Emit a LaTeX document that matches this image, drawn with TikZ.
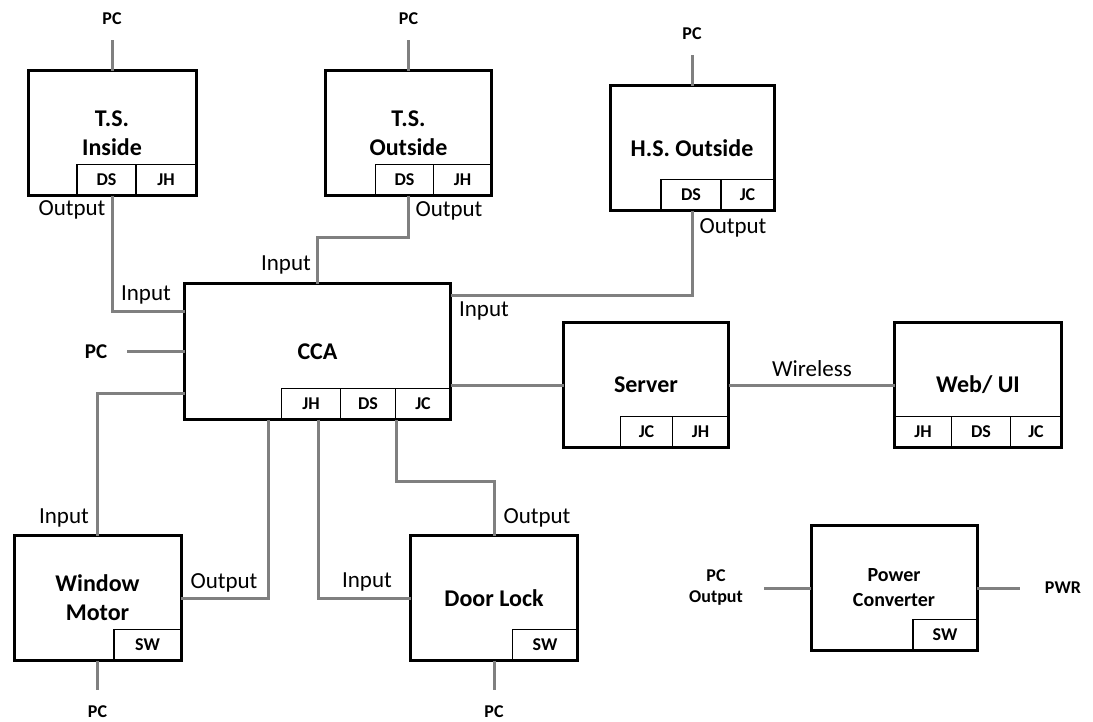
\documentclass[tikz,border=0pt]{standalone}
\usepackage{fontspec}
\setmainfont{Carlito}
\usetikzlibrary{positioning}

\tikzset{
	bloque/.style={draw, line width=3pt, outer sep=0pt, minimum width=167pt, minimum height=125pt,
		align=center, font=\fontsize{24}{29}\selectfont\bfseries},
	celda/.style={draw, line width=1.5pt, outer sep=0pt, inner sep=0pt, minimum height=31pt,
		font=\fontsize{18}{20}\selectfont\bfseries},
	cable/.style={draw=gray, line width=3pt},
	etiq/.style={inner sep=0pt, font=\fontsize{23}{26}\selectfont},
	pin/.style={inner sep=0pt, align=center, font=\fontsize{18}{21}\selectfont\bfseries}
}

\begin{document}
\begin{tikzpicture}[x=1pt, y=-1pt]
	\useasboundingbox (0,0) rectangle (1093,721);
	
	% bloques principales
	\node[bloque, minimum width=168pt] (tsi) at (112,133) {T.S.\\Inside};
	\node[bloque, minimum width=166pt] (tso) at (408.5,133) {T.S.\\Outside};
	\node[bloque, minimum width=164pt] (hso) at (692,148) {H.S. Outside};
	\node[bloque, minimum width=266pt, minimum height=136pt] (cca) at (317.5,351.5) {CCA};
	\node[bloque, minimum width=165pt] (srv) at (646,385) {Server};
	\node[bloque] (web) at (978,385) {Web/ UI};
	\node[bloque] (win) at (97.5,598) {Window\\Motor};
	\node[bloque] (door) at (494,598) {Door Lock};
	\node[bloque, minimum width=166pt, font=\fontsize{20}{25}\selectfont\bfseries] (conv) at (894,588) {Power\\Converter};
	
	% celdas de conectores
	\node[celda, minimum width=60pt, anchor=south east] (tsi-jh) at (tsi.south east) {JH};
	\node[celda, minimum width=59pt, left=0pt of tsi-jh] (tsi-ds) {DS};
	\node[celda, minimum width=58pt, anchor=south east] (tso-jh) at (tso.south east) {JH};
	\node[celda, minimum width=58pt, left=0pt of tso-jh] (tso-ds) {DS};
	\node[celda, minimum width=53pt, anchor=south east] (hso-jc) at (hso.south east) {JC};
	\node[celda, minimum width=60pt, left=0pt of hso-jc] (hso-ds) {DS};
	\node[celda, minimum width=55pt, anchor=south east] (cca-jc) at (cca.south east) {JC};
	\node[celda, minimum width=55pt, left=0pt of cca-jc] (cca-ds) {DS};
	\node[celda, minimum width=59pt, left=0pt of cca-ds] (cca-jh) {JH};
	\node[celda, minimum width=56pt, anchor=south east] (srv-jh) at (srv.south east) {JH};
	\node[celda, minimum width=52pt, left=0pt of srv-jh] (srv-jc) {JC};
	\node[celda, minimum width=51pt, anchor=south east] (web-jc) at (web.south east) {JC};
	\node[celda, minimum width=59pt, left=0pt of web-jc] (web-ds) {DS};
	\node[celda, minimum width=57pt, left=0pt of web-ds] (web-jh) {JH};
	\node[celda, minimum width=67pt, anchor=south east] (win-sw) at (win.south east) {SW};
	\node[celda, minimum width=65pt, anchor=south east] (door-sw) at (door.south east) {SW};
	\node[celda, minimum width=64pt, anchor=south east] (conv-sw) at (conv.south east) {SW};
	
	% alimentacion PC
	\foreach \b in {tsi, tso, hso} {
		\node[pin] (pc\b) at ([yshift=51.5pt]\b.north) {PC};
		\draw[cable] ([yshift=-21pt]pc\b.center) -- (\b.north);
	}
	\foreach \b in {win, door} {
		\node[pin] (pc\b) at ([yshift=-51.5pt]\b.south) {PC};
		\draw[cable] (\b.south) -- ([yshift=22pt]pc\b.center);
	}
	\node[pin, font=\fontsize{21}{23}\selectfont\bfseries] (pccca) at ([xshift=-88.5pt]cca.west) {PC};
	\draw[cable] ([xshift=31pt]pccca.center) -- (cca.west);
	\node[pin] (pcout) at ([xshift=-95pt]conv.west) {PC\\Output};
	\draw[cable] ([xshift=48pt]pcout.center) -- (conv.west);
	\node[pin] (pwr) at ([xshift=86pt]conv.east) {PWR};
	\draw[cable] (conv.east) -- ([xshift=-43pt]pwr.center);
	
	% conexiones
	\draw[cable] (tsi.south) |- ([yshift=-27.5pt]cca.north west);
	\draw[cable] (tso.south) -- ++(0,42) -| (cca.north);
	\draw[cable] (hso.south) |- ([yshift=-11.5pt]cca.north east);
	\draw[cable] ([yshift=-109.5pt]cca.north west) -| (win.north);
	\draw[cable] (win.east) -| ([xshift=83.5pt]cca.south west);
	\draw[cable] ([xshift=133.5pt]cca.south west) |- (door.west);
	\draw[cable] ([xshift=211.5pt]cca.south west) -- ++(0,62) -| (door.north);
	\draw[cable] (cca.east |- srv.west) -- (srv.west);
	\draw[cable] (srv.east) -- (web.west);
	
	% etiquetas
	\node[etiq] (o1) at (72,210) {Output};
	\node[etiq] (i1) at (146,295) {Input};
	\node[etiq] (i2) at (286,265) {Input};
	\node[etiq] (o2) at (449,211) {Output};
	\node[etiq] (o3) at (733,228) {Output};
	\node[etiq] (i3) at (484,311) {Input};
	\node[etiq] (i4) at (64,518) {Input};
	\node[etiq] (o4) at (224,583) {Output};
	\node[etiq] (i5) at (367,582) {Input};
	\node[etiq] (o5) at (537,518) {Output};
	\node[etiq] (wl) at (812,369) {Wireless};
\end{tikzpicture}
\end{document}
